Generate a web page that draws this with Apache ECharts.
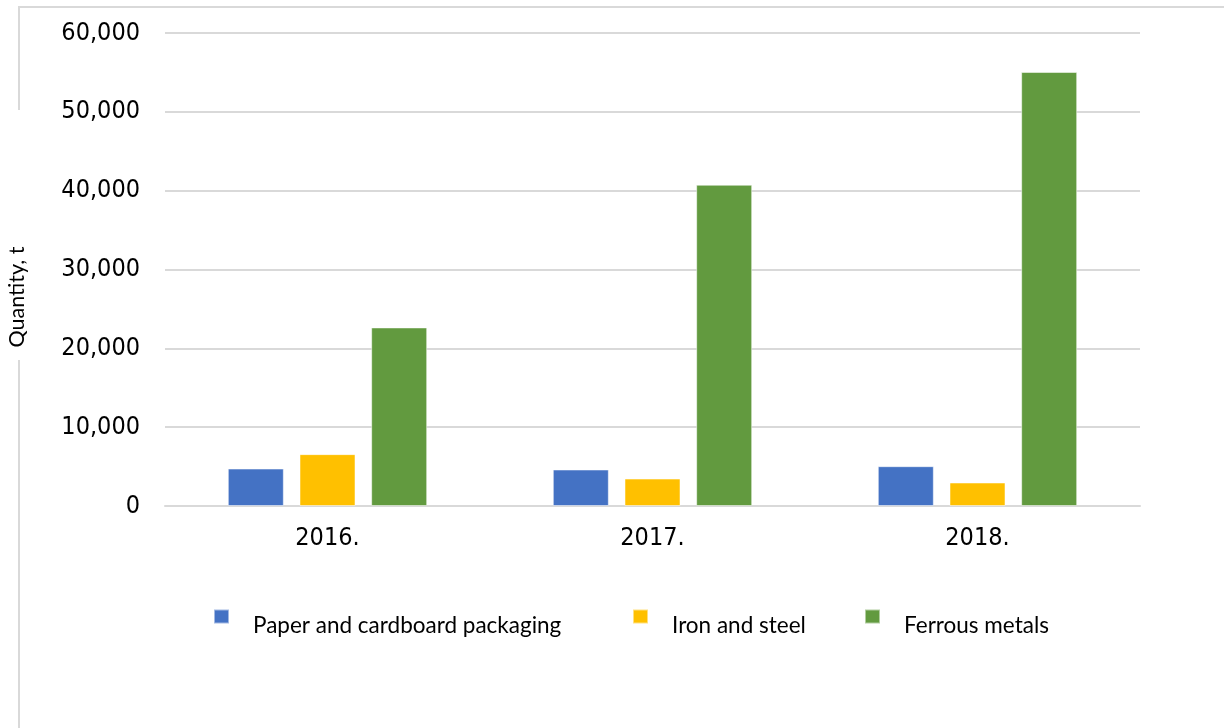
<!DOCTYPE html>
<html>
<head>
<meta charset="utf-8">
<script src="https://cdn.jsdelivr.net/npm/echarts@6/dist/echarts.min.js"></script>
<style>
  html, body { margin: 0; padding: 0; background: #ffffff; }
  #chart { width: 1224px; height: 728px; }
</style>
</head>
<body>
<div id="chart"></div>
<script>
// Years on the category axis
const years = ['2016.', '2017.', '2018.'];

// Quantities in tonnes per waste stream
const paperCardboard = [4750, 4630, 5050];
const ironSteel = [6580, 3480, 2980];
const ferrousMetals = [22650, 40750, 55050];

const seriesNames = ['Paper and cardboard packaging', 'Iron and steel', 'Ferrous metals'];
const seriesColors = ['#4472C4', '#FFC000', '#629A3F'];
const seriesValues = [paperCardboard, ironSteel, ferrousMetals];

const yAxisTitle = 'Quantity, t';

const axisFont = 'DejaVu Sans Condensed, DejaVu Sans, sans-serif';
const textFont = 'Lato, Liberation Sans, sans-serif';
const gridColor = '#d9d9d9';

const chart = echarts.init(document.getElementById('chart'), null, { renderer: 'canvas' });

const legendLefts = [213, 632, 864];

const option = {
  animation: false,
  backgroundColor: '#ffffff',
  grid: { left: 165, right: 84, top: 33, bottom: 222, containLabel: false, outerBoundsMode: 'none' },
  legend: seriesNames.map((name, i) => ({
    data: [name],
    left: legendLefts[i],
    top: 596,
    padding: 0,
    itemWidth: 15,
    itemHeight: 14,
    icon: 'rect',
    selectedMode: false,
    formatter: n => '{t|' + n + '}',
    textStyle: {
      fontFamily: textFont,
      fontSize: 22.5,
      color: '#000000',
      rich: {
        t: {
          fontFamily: textFont,
          fontSize: 22.5,
          color: '#000000',
          lineHeight: 26,
          padding: [18, 0, 0, 19]
        }
      }
    }
  })),
  xAxis: {
    type: 'category',
    data: years,
    axisLine: { show: true, lineStyle: { color: gridColor, width: 2 } },
    axisTick: { show: false },
    axisLabel: { fontFamily: axisFont, fontSize: 25, color: '#000000', margin: 20 }
  },
  yAxis: {
    type: 'value',
    min: 0,
    max: 60000,
    interval: 10000,
    axisLine: { show: false },
    axisTick: { show: false },
    splitLine: { lineStyle: { color: gridColor, width: 2 } },
    axisLabel: {
      fontFamily: axisFont,
      fontSize: 25,
      color: '#000000',
      margin: 25,
      formatter: v => v.toLocaleString('en-US')
    }
  },
  series: seriesNames.map((name, i) => ({
    name: name,
    type: 'bar',
    data: seriesValues[i],
    barWidth: 56,
    barGap: '28%',
    itemStyle: { color: seriesColors[i], borderColor: 'rgba(255,255,255,0.5)', borderWidth: 1 }
  })),
  graphic: [
    // outer frame segments
    { type: 'line', shape: { x1: 18, y1: 7, x2: 1224, y2: 7 }, style: { stroke: gridColor, lineWidth: 2 }, silent: true },
    { type: 'line', shape: { x1: 19, y1: 7, x2: 19, y2: 110 }, style: { stroke: gridColor, lineWidth: 2 }, silent: true },
    { type: 'line', shape: { x1: 19, y1: 360, x2: 19, y2: 728 }, style: { stroke: gridColor, lineWidth: 2 }, silent: true },
    // vertical axis title
    {
      type: 'text',
      x: 17,
      y: 297,
      rotation: Math.PI / 2,
      silent: true,
      style: {
        text: yAxisTitle,
        fontFamily: textFont,
        fontSize: 21.5,
        fill: '#000000',
        align: 'center',
        verticalAlign: 'middle'
      }
    }
  ]
};

chart.setOption(option);
</script>
</body>
</html>
